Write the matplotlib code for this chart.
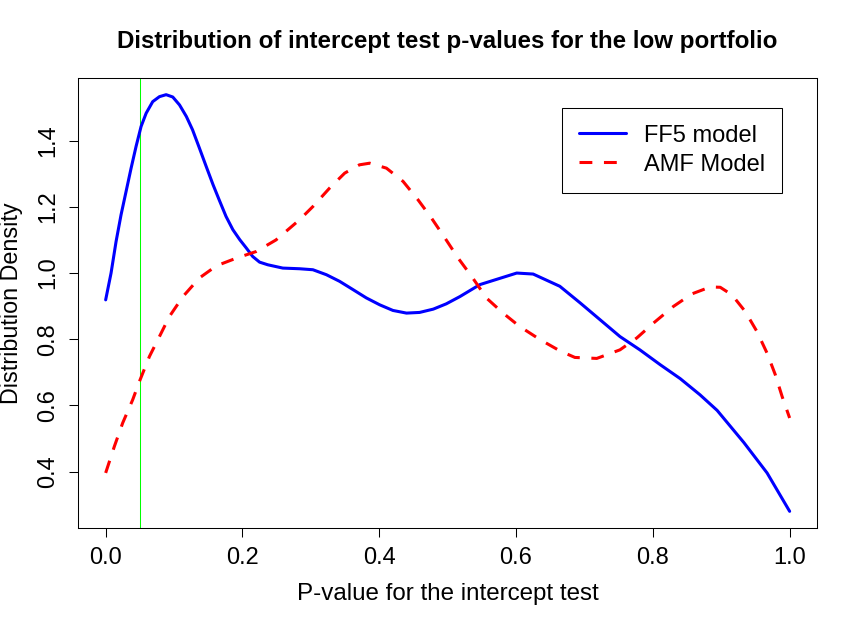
import matplotlib
matplotlib.use("Agg")
import matplotlib.pyplot as plt

# ---- data ----
ff5_x = [0.0, 0.0079, 0.0152, 0.0225, 0.0299, 0.0372, 0.0445, 0.0518, 0.0592, 0.0688,
         0.0786, 0.0884, 0.0981, 0.108, 0.118, 0.127, 0.137, 0.147, 0.157, 0.166,
         0.176, 0.186, 0.196, 0.2055, 0.215, 0.225, 0.237, 0.259, 0.2835, 0.303,
         0.3227, 0.342, 0.3616, 0.381, 0.4007, 0.420, 0.4398, 0.459, 0.479, 0.498,
         0.518, 0.547, 0.601, 0.625, 0.664, 0.6936, 0.7228, 0.752, 0.781, 0.8108,
         0.840, 0.869, 0.894, 0.9157, 0.933, 0.967, 1.0]
ff5_y = [0.919, 1.000, 1.095, 1.176, 1.247, 1.317, 1.383, 1.443, 1.483, 1.518,
         1.533, 1.539, 1.532, 1.508, 1.473, 1.433, 1.378, 1.322, 1.267, 1.221,
         1.171, 1.131, 1.101, 1.076, 1.050, 1.033, 1.025, 1.015, 1.013, 1.010,
         0.995, 0.975, 0.950, 0.925, 0.904, 0.887, 0.879, 0.881, 0.891, 0.907,
         0.929, 0.965, 1.000, 0.997, 0.960, 0.910, 0.859, 0.808, 0.768, 0.723,
         0.681, 0.632, 0.585, 0.531, 0.488, 0.396, 0.280]

amf_x = [0.0, 0.0127, 0.0249, 0.0395, 0.0493, 0.064, 0.0786, 0.0933, 0.113, 0.137,
         0.162, 0.191, 0.220, 0.249, 0.2835, 0.303, 0.3275, 0.3495, 0.371, 0.386,
         0.4105, 0.4348, 0.4568, 0.4764, 0.496, 0.5154, 0.535, 0.557, 0.581, 0.605,
         0.635, 0.664, 0.686, 0.718, 0.752, 0.7766, 0.801, 0.830, 0.857, 0.884,
         0.8985, 0.9157, 0.935, 0.952, 0.967, 0.979, 0.989, 1.0]
amf_y = [0.396, 0.476, 0.547, 0.617, 0.672, 0.748, 0.808, 0.869, 0.929, 0.985,
         1.022, 1.045, 1.065, 1.100, 1.161, 1.201, 1.257, 1.302, 1.327, 1.332,
         1.317, 1.277, 1.221, 1.166, 1.106, 1.045, 0.990, 0.924, 0.879, 0.839,
         0.799, 0.765, 0.745, 0.742, 0.768, 0.804, 0.849, 0.899, 0.937, 0.958,
         0.957, 0.934, 0.884, 0.824, 0.758, 0.693, 0.627, 0.562]

cutoff = 0.05
x_ticks = [0.0, 0.2, 0.4, 0.6, 0.8, 1.0]
x_labels = ["0.0", "0.2", "0.4", "0.6", "0.8", "1.0"]
y_ticks = [0.4, 0.6, 0.8, 1.0, 1.2, 1.4]
y_labels = ["0.4", "0.6", "0.8", "1.0", "1.2", "1.4"]
series_names = ["FF5 model", "AMF Model"]

title = "Distribution of intercept test p-values for the low portfolio"
xlabel = "P-value for the intercept test"
ylabel = "Distribution Density"

# ---- drawing ----
plt.rcParams["font.family"] = ["Liberation Sans", "DejaVu Sans"]
W, H = 858, 626
fig = plt.figure(figsize=(W / 100, H / 100), dpi=100)
left, right, top, bottom = 78.3, 817.0, 78.0, 528.0
ax = fig.add_axes([left / W, 1 - bottom / H, (right - left) / W, (bottom - top) / H])

lw = 2.2
ax.plot(ff5_x, ff5_y, color="#0000FF", lw=lw, solid_capstyle="round",
        solid_joinstyle="round", label=series_names[0], zorder=3)
ax.plot(amf_x, amf_y, color="#FF0000", lw=lw, linestyle=(0, (4.2, 3.8)),
        dash_capstyle="butt", dash_joinstyle="round", label=series_names[1], zorder=3)
ax.axvline(cutoff, color="#00FF00", lw=0.75, zorder=2)

ax.set_xlim(-0.04, 1.04)
ax.set_ylim(0.2296, 1.5894)
ax.set_xticks(x_ticks)
ax.set_xticklabels(x_labels)
ax.set_yticks(y_ticks)
ax.set_yticklabels(y_labels, rotation=90, va="center")

for s in ax.spines.values():
    s.set_linewidth(0.75)
    s.set_color("black")
ax.tick_params(axis="both", length=6.5, width=0.75, color="black",
               labelsize=17, pad=7)

ax.set_xlabel(xlabel, fontsize=17.4, labelpad=10)
ax.set_ylabel(ylabel, fontsize=16.8, labelpad=10.5)
ax.set_title(title, fontsize=17.4, fontweight="bold", pad=21.4)

leg = ax.legend(loc="upper right", bbox_to_anchor=(0.953, 0.934),
                bbox_transform=ax.transAxes, borderaxespad=0,
                fontsize=17, frameon=True, fancybox=False, framealpha=1,
                edgecolor="black", handlelength=2.0, handletextpad=0.75,
                borderpad=0.72, labelspacing=0.29)
leg.get_frame().set_linewidth(0.75)

fig.savefig("out.png", dpi=100)
